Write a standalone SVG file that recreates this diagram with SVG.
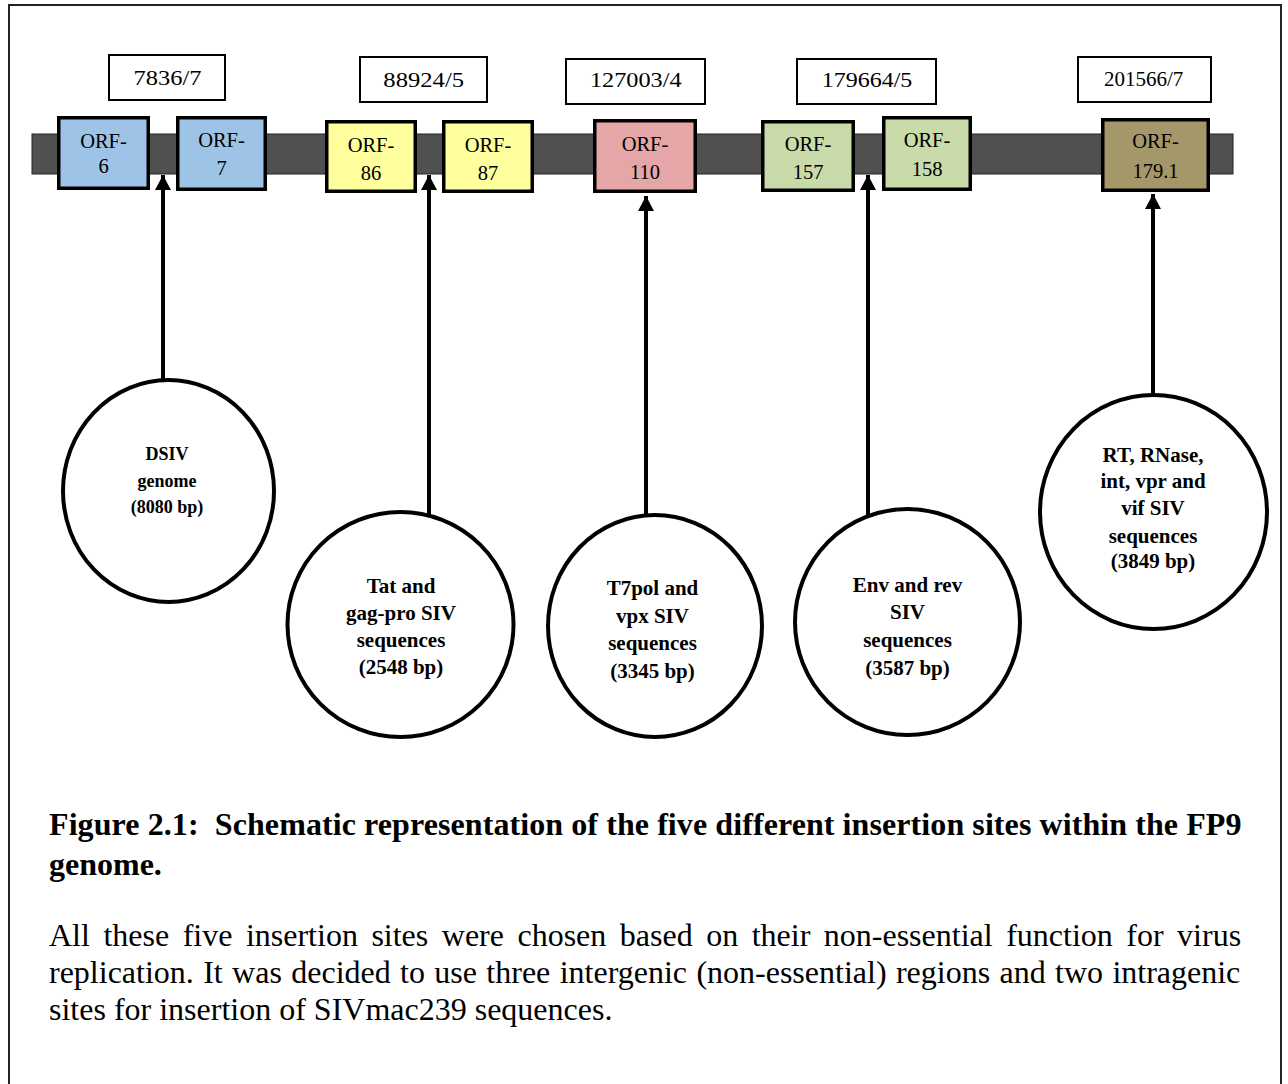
<svg xmlns="http://www.w3.org/2000/svg" width="1288" height="1084" viewBox="0 0 1288 1084">
<defs>
<style>
.frame{fill:#fff;stroke:#222;stroke-width:2}
.bar{fill:#505050;stroke:#222;stroke-width:1}
.lbl{fill:#fff;stroke:#000;stroke-width:2}
.orf{stroke:#000;stroke-width:3.5}
.blue{fill:#9dc3e6}.yellow{fill:#ffff9e}.pink{fill:#e4a6a6}.green{fill:#c9dba8}.olive{fill:#a49769}
.lt{font-family:"Liberation Serif","Times New Roman",serif;font-size:21px;fill:#000;text-anchor:middle}
.ot{font-family:"Liberation Serif","Times New Roman",serif;font-size:20.5px;fill:#000;text-anchor:middle}
.circ{fill:#fff;stroke:#000;stroke-width:4}
.ct{font-family:"Liberation Serif","Times New Roman",serif;font-weight:bold;font-size:21px;fill:#000;text-anchor:middle}
.ct1{font-size:18px}
.conn{stroke:#000;stroke-width:4;fill:none;marker-end:url(#ah)}
.cap{font-family:"Liberation Serif","Times New Roman",serif;font-weight:bold;font-size:32px;fill:#000}
.para{font-family:"Liberation Serif","Times New Roman",serif;font-size:32px;fill:#000}
</style>
<marker id="ah" markerUnits="userSpaceOnUse" markerWidth="16" markerHeight="16" refX="15" refY="8" orient="auto">
<path d="M0,0 L15,8 L0,16 Z" fill="#000"/>
</marker>
</defs>
<rect class="frame" x="9" y="5" width="1272" height="1090"/>
<rect class="bar" x="32" y="134" width="1201" height="40"/>

<g id="label-7836"><rect class="lbl" x="109" y="55" width="116" height="45"/><text class="lt" x="167.5" y="85" textLength="68" lengthAdjust="spacingAndGlyphs">7836/7</text></g>
<g id="label-88924"><rect class="lbl" x="360" y="57" width="127" height="45"/><text class="lt" x="423.7" y="87" textLength="80.7" lengthAdjust="spacingAndGlyphs">88924/5</text></g>
<g id="label-127003"><rect class="lbl" x="566" y="59" width="139" height="45"/><text class="lt" x="635.8" y="87" textLength="91.7" lengthAdjust="spacingAndGlyphs">127003/4</text></g>
<g id="label-179664"><rect class="lbl" x="797" y="59" width="139" height="45"/><text class="lt" x="867" y="87" textLength="90.7" lengthAdjust="spacingAndGlyphs">179664/5</text></g>
<g id="label-201566"><rect class="lbl" x="1078" y="57" width="133" height="45"/><text class="lt" x="1143.7" y="86">201566/7</text></g>

<g id="orf-6"><rect class="orf blue" x="58.75" y="117.75" width="89.5" height="70.5"/><text class="ot" x="103.5" y="148">ORF-</text><text class="ot" x="103.5" y="173">6</text></g>
<g id="orf-7"><rect class="orf blue" x="177.75" y="117.75" width="87.5" height="71.5"/><text class="ot" x="221.5" y="147">ORF-</text><text class="ot" x="221.5" y="175">7</text></g>
<g id="orf-86"><rect class="orf yellow" x="326.75" y="121.75" width="88.5" height="69.5"/><text class="ot" x="371" y="152">ORF-</text><text class="ot" x="371" y="180">86</text></g>
<g id="orf-87"><rect class="orf yellow" x="443.75" y="121.75" width="88.5" height="69.5"/><text class="ot" x="488" y="152">ORF-</text><text class="ot" x="488" y="180">87</text></g>
<g id="orf-110"><rect class="orf pink" x="594.75" y="120.75" width="100.5" height="70.5"/><text class="ot" x="645" y="151">ORF-</text><text class="ot" x="645" y="179">110</text></g>
<g id="orf-157"><rect class="orf green" x="762.75" y="121.75" width="90.5" height="68.5"/><text class="ot" x="808" y="151">ORF-</text><text class="ot" x="808" y="179">157</text></g>
<g id="orf-158"><rect class="orf green" x="883.75" y="117.75" width="86.5" height="71.5"/><text class="ot" x="927" y="147">ORF-</text><text class="ot" x="927" y="176">158</text></g>
<g id="orf-179-1"><rect class="orf olive" x="1102.75" y="119.75" width="105.5" height="70.5"/><text class="ot" x="1155.5" y="148">ORF-</text><text class="ot" x="1155.5" y="178">179.1</text></g>

<g id="connectors">
<line class="conn" x1="163" y1="384" x2="163" y2="175"/>
<line class="conn" x1="429" y1="515" x2="429" y2="175"/>
<line class="conn" x1="646" y1="516" x2="646" y2="196"/>
<line class="conn" x1="868" y1="516" x2="868" y2="175"/>
<line class="conn" x1="1153" y1="395" x2="1153" y2="194"/>
</g>

<g id="site-dsiv"><ellipse class="circ" cx="168.5" cy="491" rx="105.5" ry="111"/>
<text class="ct ct1" x="167" y="460">DSIV</text><text class="ct ct1" x="167" y="487">genome</text><text class="ct ct1" x="167" y="513">(8080 bp)</text></g>
<g id="site-tat"><ellipse class="circ" cx="400.5" cy="624.5" rx="113" ry="112.5"/>
<text class="ct" x="401" y="593">Tat and</text><text class="ct" x="401" y="620">gag-pro SIV</text><text class="ct" x="401" y="647">sequences</text><text class="ct" x="401" y="674">(2548 bp)</text></g>
<g id="site-t7pol"><ellipse class="circ" cx="655" cy="626" rx="107" ry="111"/>
<text class="ct" x="652.5" y="595">T7pol and</text><text class="ct" x="652.5" y="623">vpx SIV</text><text class="ct" x="652.5" y="650">sequences</text><text class="ct" x="652.5" y="678">(3345 bp)</text></g>
<g id="site-env"><ellipse class="circ" cx="907.5" cy="622" rx="112.5" ry="113"/>
<text class="ct" x="907.5" y="592">Env and rev</text><text class="ct" x="907.5" y="619">SIV</text><text class="ct" x="907.5" y="647">sequences</text><text class="ct" x="907.5" y="675">(3587 bp)</text></g>
<g id="site-rt"><ellipse class="circ" cx="1153.5" cy="512" rx="113.5" ry="117"/>
<text class="ct" x="1153" y="462">RT, RNase,</text><text class="ct" x="1153" y="488">int, vpr and</text><text class="ct" x="1153" y="515">vif SIV</text><text class="ct" x="1153" y="543">sequences</text><text class="ct" x="1153" y="568">(3849 bp)</text></g>

<text class="cap" x="49" y="835" textLength="1192.5" lengthAdjust="spacing" xml:space="preserve">Figure 2.1:  Schematic representation of the five different insertion sites within the FP9</text>
<text class="cap" x="49" y="875">genome.</text>
<text class="para" x="49" y="945.5" word-spacing="5.5">All these five insertion sites were chosen based on their non-essential function for virus</text>
<text class="para" x="49" y="982.5" word-spacing="1.36">replication. It was decided to use three intergenic (non-essential) regions and two intragenic</text>
<text class="para" x="49" y="1019.5">sites for insertion of SIVmac239 sequences.</text>
</svg>
